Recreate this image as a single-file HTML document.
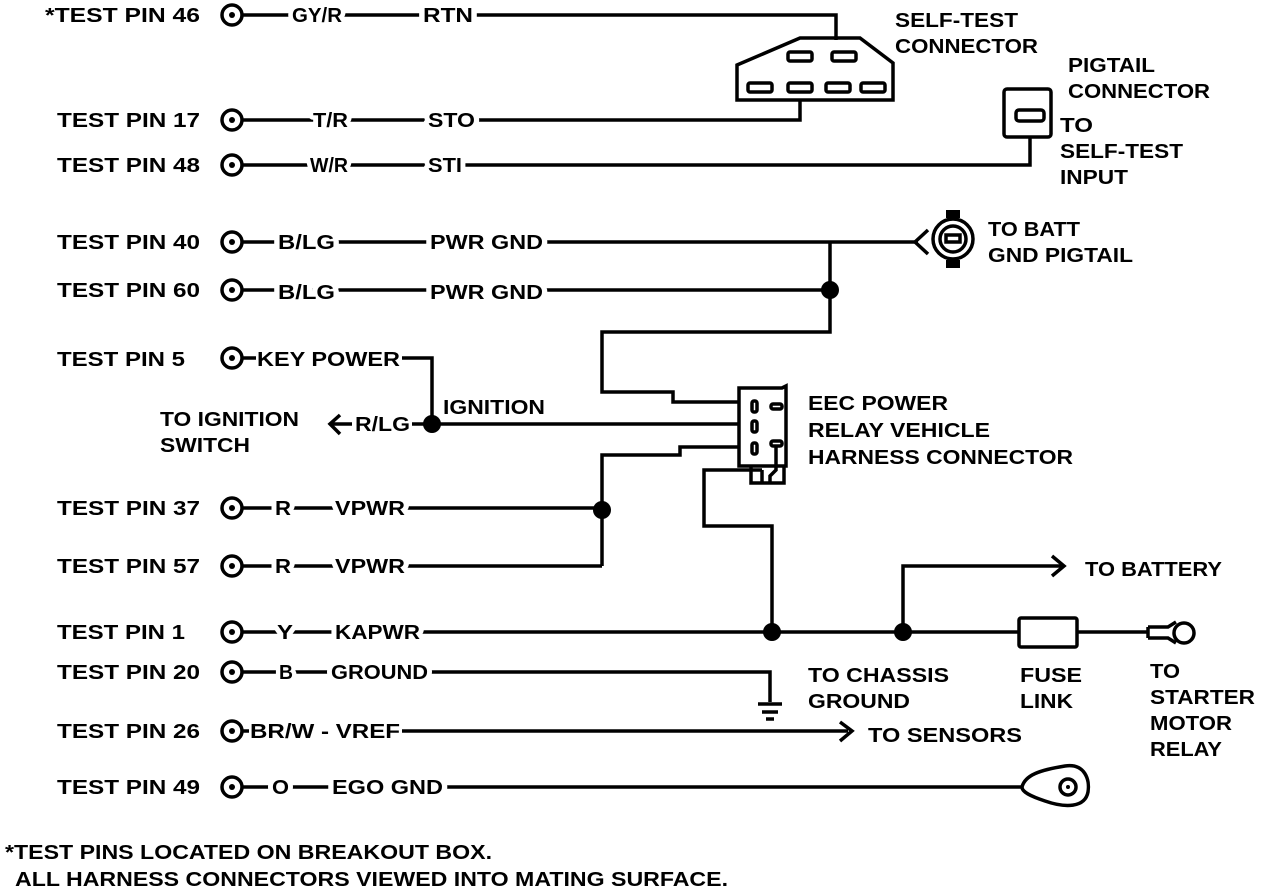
<!DOCTYPE html>
<html><head><meta charset="utf-8"><style>
html,body{margin:0;padding:0;background:#fff;}
svg{display:block;}
text{font-family:"Liberation Sans",sans-serif;font-weight:bold;font-size:20px;fill:#000;}
.w{paint-order:stroke;stroke:#fff;stroke-width:9px;stroke-linejoin:round;}
</style></head><body>
<svg width="1264" height="890" viewBox="0 0 1264 890" xmlns="http://www.w3.org/2000/svg">
<g fill="none" stroke="#000" stroke-width="3.5">
<g>
<circle cx="232" cy="15" r="10"/><circle cx="232" cy="120" r="10"/><circle cx="232" cy="165" r="10"/>
<circle cx="232" cy="242" r="10"/><circle cx="232" cy="290" r="10"/><circle cx="232" cy="358" r="10"/>
<circle cx="232" cy="508" r="10"/><circle cx="232" cy="566" r="10"/><circle cx="232" cy="632" r="10"/>
<circle cx="232" cy="672" r="10"/><circle cx="232" cy="731" r="10"/><circle cx="232" cy="787" r="10"/>
</g>
<path d="M242 15H836V40"/>
<path d="M242 120H800V100"/>
<path d="M242 165H1030V138"/>
<path d="M242 242H918"/>
<path d="M242 290H830"/>
<path d="M830 242V332H602V392H673V402H740"/>
<path d="M242 358H256M402 358H432V424"/>
<path d="M412 424H740"/>
<path d="M740 447H680V455H602V566"/>
<path d="M242 508H602"/>
<path d="M242 566H602"/>
<path d="M762 470H704V526H772V632"/>
<path d="M242 632H1018"/>
<path d="M903 632V566H1062"/>
<path d="M1077 632H1148"/>
<path d="M242 672H770V702"/>
<path d="M242 731H249M402 731H848"/>
<path d="M242 787H1022"/>
<path d="M1052 556L1064 566L1052 576"/>
<path d="M840 722L852 731L840 741"/>
<path d="M340 415L330 424L340 434M330 424H352"/>
<path d="M928 230L915 242L928 254"/>
<path d="M737 65L800 38H860L893 63V100H737Z"/>
<rect x="788" y="52" width="24" height="9" rx="2"/>
<rect x="832" y="52" width="24" height="9" rx="2"/>
<rect x="748" y="83" width="24" height="9" rx="2"/>
<rect x="788" y="83" width="24" height="9" rx="2"/>
<rect x="826" y="83" width="24" height="9" rx="2"/>
<rect x="861" y="83" width="24" height="9" rx="2"/>
<rect x="1004" y="89" width="47" height="48" rx="3"/>
<rect x="1016" y="110" width="28" height="11" rx="3"/>
<circle cx="953" cy="239" r="20"/>
<circle cx="953" cy="239" r="13"/>
<rect x="946" y="235" width="14" height="7"/>
<path d="M739 388H782L786 386V466H739Z"/>
<rect x="752" y="401" width="5" height="11" rx="2"/><rect x="752" y="421" width="5" height="11" rx="2"/><rect x="752" y="443" width="5" height="11" rx="2"/>
<rect x="771" y="404" width="11" height="5" rx="2"/><rect x="771" y="441" width="11" height="5" rx="2"/>
<path d="M751 466V483H784V466M762 483V470M776 445V470L770 476V483"/>
<path d="M758 704H782M762 712H778M766 719H774"/>
<rect x="1019" y="618" width="58" height="29" rx="2"/>
<path d="M1148 627H1168L1176 622M1148 638H1168L1176 643M1148 627V638"/>
<circle cx="1184" cy="633" r="10"/>
<path d="M1022 787C1025 775 1040 770 1065 766C1085 763 1090 780 1088 792C1085 808 1065 808 1045 801C1030 796 1022 792 1022 787Z"/>
<circle cx="1068" cy="787" r="8"/>
</g>
<g fill="#000">
<circle cx="232" cy="15" r="3"/><circle cx="232" cy="120" r="3"/><circle cx="232" cy="165" r="3"/>
<circle cx="232" cy="242" r="3"/><circle cx="232" cy="290" r="3"/><circle cx="232" cy="358" r="3"/>
<circle cx="232" cy="508" r="3"/><circle cx="232" cy="566" r="3"/><circle cx="232" cy="632" r="3"/>
<circle cx="232" cy="672" r="3"/><circle cx="232" cy="731" r="3"/><circle cx="232" cy="787" r="3"/>
<circle cx="830" cy="290" r="9"/><circle cx="432" cy="424" r="9"/><circle cx="602" cy="510" r="9"/>
<circle cx="772" cy="632" r="9"/><circle cx="903" cy="632" r="9"/>
<circle cx="1068" cy="787" r="2"/>
<rect x="946" y="210" width="14" height="8"/><rect x="946" y="260" width="14" height="8"/>
</g>
<g>
<text x="45" y="22" textLength="155" lengthAdjust="spacingAndGlyphs">*TEST PIN 46</text>
<text x="57" y="127" textLength="143" lengthAdjust="spacingAndGlyphs">TEST PIN 17</text>
<text x="57" y="172" textLength="143" lengthAdjust="spacingAndGlyphs">TEST PIN 48</text>
<text x="57" y="249" textLength="143" lengthAdjust="spacingAndGlyphs">TEST PIN 40</text>
<text x="57" y="297" textLength="143" lengthAdjust="spacingAndGlyphs">TEST PIN 60</text>
<text x="57" y="366" textLength="128" lengthAdjust="spacingAndGlyphs">TEST PIN 5</text>
<text x="57" y="515" textLength="143" lengthAdjust="spacingAndGlyphs">TEST PIN 37</text>
<text x="57" y="573" textLength="143" lengthAdjust="spacingAndGlyphs">TEST PIN 57</text>
<text x="57" y="639" textLength="128" lengthAdjust="spacingAndGlyphs">TEST PIN 1</text>
<text x="57" y="679" textLength="143" lengthAdjust="spacingAndGlyphs">TEST PIN 20</text>
<text x="57" y="738" textLength="143" lengthAdjust="spacingAndGlyphs">TEST PIN 26</text>
<text x="57" y="794" textLength="143" lengthAdjust="spacingAndGlyphs">TEST PIN 49</text>

<text class="w" x="292" y="22" textLength="50" lengthAdjust="spacingAndGlyphs">GY/R</text>
<text class="w" x="423" y="22" textLength="50" lengthAdjust="spacingAndGlyphs">RTN</text>
<text class="w" x="313" y="127" textLength="35" lengthAdjust="spacingAndGlyphs">T/R</text>
<text class="w" x="428" y="127" textLength="47" lengthAdjust="spacingAndGlyphs">STO</text>
<text class="w" x="310" y="172" textLength="38" lengthAdjust="spacingAndGlyphs">W/R</text>
<text class="w" x="428" y="172" textLength="34" lengthAdjust="spacingAndGlyphs">STI</text>
<text class="w" x="278" y="249" textLength="57" lengthAdjust="spacingAndGlyphs">B/LG</text>
<text class="w" x="430" y="249" textLength="113" lengthAdjust="spacingAndGlyphs">PWR GND</text>
<text class="w" x="278" y="299" textLength="57" lengthAdjust="spacingAndGlyphs">B/LG</text>
<text class="w" x="430" y="299" textLength="113" lengthAdjust="spacingAndGlyphs">PWR GND</text>
<text x="257" y="366" textLength="143" lengthAdjust="spacingAndGlyphs">KEY POWER</text>
<text x="355" y="431" textLength="55" lengthAdjust="spacingAndGlyphs">R/LG</text>
<text x="443" y="414" textLength="102" lengthAdjust="spacingAndGlyphs">IGNITION</text>
<text x="160" y="426" textLength="139" lengthAdjust="spacingAndGlyphs">TO IGNITION</text>
<text x="160" y="452" textLength="90" lengthAdjust="spacingAndGlyphs">SWITCH</text>
<text class="w" x="275" y="515" textLength="16" lengthAdjust="spacingAndGlyphs">R</text>
<text class="w" x="335" y="515" textLength="70" lengthAdjust="spacingAndGlyphs">VPWR</text>
<text class="w" x="275" y="573" textLength="16" lengthAdjust="spacingAndGlyphs">R</text>
<text class="w" x="335" y="573" textLength="70" lengthAdjust="spacingAndGlyphs">VPWR</text>
<text class="w" x="277" y="639" textLength="16" lengthAdjust="spacingAndGlyphs">Y</text>
<text class="w" x="335" y="639" textLength="85" lengthAdjust="spacingAndGlyphs">KAPWR</text>
<text class="w" x="279" y="679" textLength="14" lengthAdjust="spacingAndGlyphs">B</text>
<text class="w" x="331" y="679" textLength="97" lengthAdjust="spacingAndGlyphs">GROUND</text>
<text x="250" y="738" textLength="150" lengthAdjust="spacingAndGlyphs">BR/W - VREF</text>
<text class="w" x="272" y="794" textLength="17" lengthAdjust="spacingAndGlyphs">O</text>
<text class="w" x="332" y="794" textLength="111" lengthAdjust="spacingAndGlyphs">EGO GND</text>

<text x="895" y="27" textLength="123" lengthAdjust="spacingAndGlyphs">SELF-TEST</text>
<text x="895" y="53" textLength="143" lengthAdjust="spacingAndGlyphs">CONNECTOR</text>
<text x="1068" y="72" textLength="87" lengthAdjust="spacingAndGlyphs">PIGTAIL</text>
<text x="1068" y="98" textLength="142" lengthAdjust="spacingAndGlyphs">CONNECTOR</text>
<text x="1060" y="132" textLength="33" lengthAdjust="spacingAndGlyphs">TO</text>
<text x="1060" y="158" textLength="123" lengthAdjust="spacingAndGlyphs">SELF-TEST</text>
<text x="1060" y="184" textLength="68" lengthAdjust="spacingAndGlyphs">INPUT</text>
<text x="988" y="236" textLength="92" lengthAdjust="spacingAndGlyphs">TO BATT</text>
<text x="988" y="262" textLength="145" lengthAdjust="spacingAndGlyphs">GND PIGTAIL</text>
<text x="808" y="410" textLength="140" lengthAdjust="spacingAndGlyphs">EEC POWER</text>
<text x="808" y="437" textLength="182" lengthAdjust="spacingAndGlyphs">RELAY VEHICLE</text>
<text x="808" y="464" textLength="265" lengthAdjust="spacingAndGlyphs">HARNESS CONNECTOR</text>
<text x="1085" y="576" textLength="137" lengthAdjust="spacingAndGlyphs">TO BATTERY</text>
<text x="808" y="682" textLength="141" lengthAdjust="spacingAndGlyphs">TO CHASSIS</text>
<text x="808" y="708" textLength="102" lengthAdjust="spacingAndGlyphs">GROUND</text>
<text x="1020" y="682" textLength="62" lengthAdjust="spacingAndGlyphs">FUSE</text>
<text x="1020" y="708" textLength="53" lengthAdjust="spacingAndGlyphs">LINK</text>
<text x="1150" y="678" textLength="30" lengthAdjust="spacingAndGlyphs">TO</text>
<text x="1150" y="704" textLength="105" lengthAdjust="spacingAndGlyphs">STARTER</text>
<text x="1150" y="730" textLength="82" lengthAdjust="spacingAndGlyphs">MOTOR</text>
<text x="1150" y="756" textLength="72" lengthAdjust="spacingAndGlyphs">RELAY</text>
<text x="868" y="742" textLength="154" lengthAdjust="spacingAndGlyphs">TO SENSORS</text>
<text x="5" y="859" textLength="487" lengthAdjust="spacingAndGlyphs">*TEST PINS LOCATED ON BREAKOUT BOX.</text>
<text x="15" y="886" textLength="713" lengthAdjust="spacingAndGlyphs">ALL HARNESS CONNECTORS VIEWED INTO MATING SURFACE.</text>
</g>
</svg>
</body></html>
